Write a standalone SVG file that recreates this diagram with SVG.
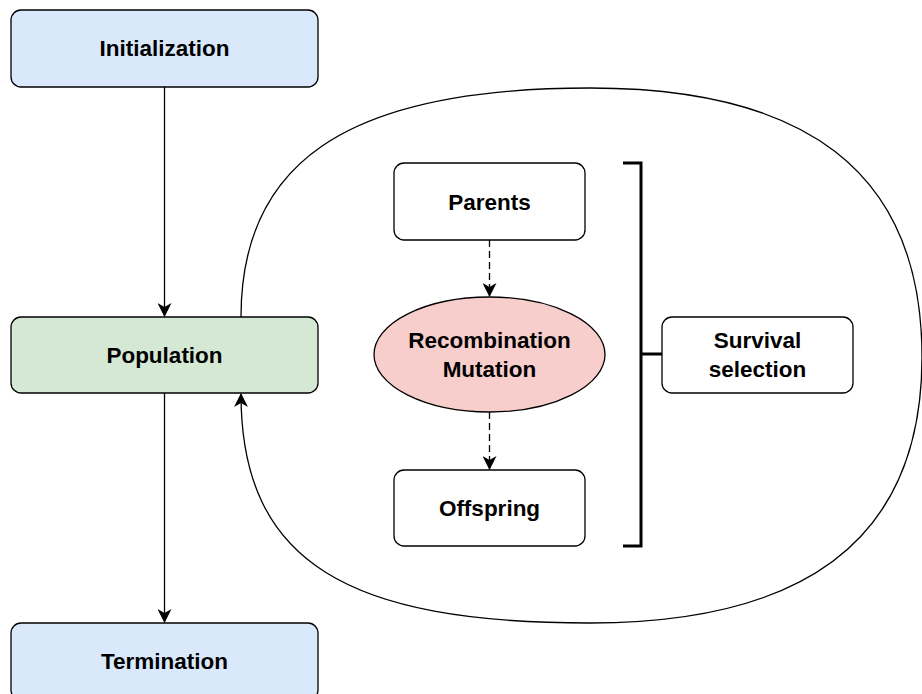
<svg xmlns="http://www.w3.org/2000/svg" width="922" height="694" viewBox="0 0 922 694">
  <style>
    .box { stroke: #000; stroke-width: 1.3; }
    .lbl { font-family: "Liberation Sans", Arial, Helvetica, sans-serif; font-weight: bold; font-size: 22.5px; fill: #000; text-anchor: middle; }
    .edge { fill: none; stroke: #000; stroke-width: 1.3; }
    .dash { stroke-dasharray: 7 4; }
    .bracket { fill: none; stroke: #000; stroke-width: 3; }
  </style>
  <defs>
    <marker id="arrow" viewBox="0 0 14 14" markerWidth="14" markerHeight="14" refX="13" refY="7" orient="auto" markerUnits="userSpaceOnUse">
      <path d="M0,0 L14,7 L0,14 L4,7 Z" fill="#000"/>
    </marker>
  </defs>
  <rect width="922" height="694" fill="#fff"/>

  <g id="edges">
    <path class="edge" d="M164.5 87 L164.5 316" marker-end="url(#arrow)"/>
    <path class="edge" d="M164.5 393 L164.5 622" marker-end="url(#arrow)"/>
    <!-- generation loop: leaves the population, sweeps round the variation cycle and returns -->
    <path class="edge" d="M241 317 C241 167, 340 88, 590 88 C800 88, 922 167, 922 357 C922 527, 820 623, 590 623 C350 623, 241 564, 241 394" marker-end="url(#arrow)"/>
    <path class="edge dash" d="M489.5 240 L489.5 296" marker-end="url(#arrow)"/>
    <path class="edge dash" d="M489.5 412 L489.5 469" marker-end="url(#arrow)"/>
  </g>

  <g id="initialization">
    <rect class="box" x="11" y="10" width="307" height="77" rx="10" fill="#dae8fc"/>
    <text class="lbl" x="164.5" y="56">Initialization</text>
  </g>
  <g id="population">
    <rect class="box" x="11" y="317" width="307" height="76" rx="10" fill="#d5e8d4"/>
    <text class="lbl" x="164.5" y="363">Population</text>
  </g>
  <g id="termination">
    <rect class="box" x="11" y="623" width="307" height="77" rx="10" fill="#dae8fc"/>
    <text class="lbl" x="164.5" y="669">Termination</text>
  </g>
  <g id="parents">
    <rect class="box" x="394" y="163" width="191" height="77" rx="10" fill="#fff"/>
    <text class="lbl" x="489.5" y="209.5">Parents</text>
  </g>
  <g id="variation">
    <ellipse class="box" cx="489.5" cy="354.5" rx="115.5" ry="57.5" fill="#f8cecc"/>
    <text class="lbl" x="489.5" y="348">Recombination</text>
    <text class="lbl" x="489.5" y="376.5">Mutation</text>
  </g>
  <g id="offspring">
    <rect class="box" x="394" y="470" width="191" height="76" rx="10" fill="#fff"/>
    <text class="lbl" x="489.5" y="516">Offspring</text>
  </g>
  <g id="survival-bracket">
    <path class="bracket" d="M623 163 L641 163 L641 546 L623 546"/>
    <path class="bracket" d="M641 354 L662 354"/>
  </g>
  <g id="survival-selection">
    <rect class="box" x="662" y="317" width="191" height="76" rx="10" fill="#fff"/>
    <text class="lbl" x="757.5" y="348">Survival</text>
    <text class="lbl" x="757.5" y="376.5">selection</text>
  </g>
</svg>
